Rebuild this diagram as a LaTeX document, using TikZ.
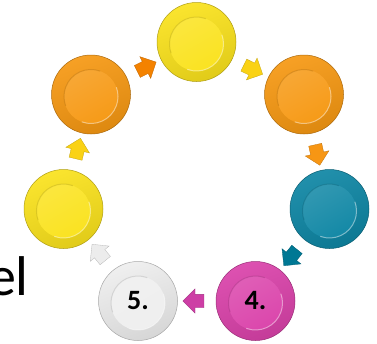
\documentclass[tikz,border=0pt]{standalone}
\usepackage{fontspec}
\setmainfont{Carlito}
\usetikzlibrary{shapes.arrows}
\definecolor{cyel}{RGB}{250,226,28}
\definecolor{corg}{RGB}{246,152,18}
\definecolor{cteal}{RGB}{14,134,164}
\definecolor{cmag}{RGB}{218,66,170}
\definecolor{cwht}{RGB}{238,238,238}
\definecolor{aorg}{RGB}{244,130,0}
\definecolor{ayel}{RGB}{250,210,20}
\definecolor{aorgb}{RGB}{247,150,20}
\definecolor{ateal}{RGB}{0,120,148}
\definecolor{amag}{RGB}{205,62,165}
\definecolor{awht}{RGB}{236,236,236}
\tikzset{
  disc/.style={circle, inner sep=0pt, minimum size=79pt,
    draw=#1!70!black, line width=0.5pt,
    top color=#1!92!white, bottom color=#1!90!black, shading angle=20,
    path picture={
      \shade[top color=#1!82!white, bottom color=#1, shading angle=30]
        ([yshift=-2pt]path picture bounding box.center) circle (27pt);
      \draw[#1!70!black, opacity=0.35, line width=1pt]
        ([yshift=-2pt]path picture bounding box.center) ++(70:27pt) arc (70:200:27pt);
      \draw[white, opacity=0.45, line width=1pt]
        ([yshift=-2pt]path picture bounding box.center) ++(250:27pt) arc (250:380:27pt);
    },
    font=\bfseries\fontsize{28}{28}\selectfont},
  arr/.style={single arrow, sloped, allow upside down, minimum height=21pt,
    inner xsep=0pt, inner ysep=6.5pt, single arrow head extend=5.5pt,
    fill=#1, draw=#1!78!black, line width=0.3pt},
  lbl/.style={anchor=base east, inner sep=0pt, font=\fontsize{56}{56}\selectfont}
}
\begin{document}
\begin{tikzpicture}[x=1pt,y=-1pt]
\useasboundingbox (0,0) rectangle (377,343);
\node[disc=cyel]  (c1) at (196.5,42) {};
\node[disc=corg]  (c2) at (304,94.5) {};
\node[disc=cteal] (c3) at (329.5,209) {};
\node[disc=cmag]  (c4) at (255.5,301) {4.};
\node[disc=cwht]  (c5) at (138,301) {5.};
\node[disc=cyel]  (c6) at (63.5,209) {};
\node[disc=corg]  (c7) at (91,94.5) {};
\path (c7) -- node[arr=aorg]  (a1) {} (c1);
\path (c1) -- node[arr=ayel]  (a2) {} (c2);
\path (c2) -- node[arr=aorgb] (a3) {} (c3);
\path (c3) -- node[arr=ateal] (a4) {} (c4);
\path (c4) -- node[arr=amag]  (a5) {} (c5);
\path (c5) -- node[arr=awht]  (a6) {} (c6);
\path (c6) -- node[arr=ayel]  (a7) {} (c7);
\node[lbl] (t) at (29,295) {el};
\end{tikzpicture}
\end{document}
